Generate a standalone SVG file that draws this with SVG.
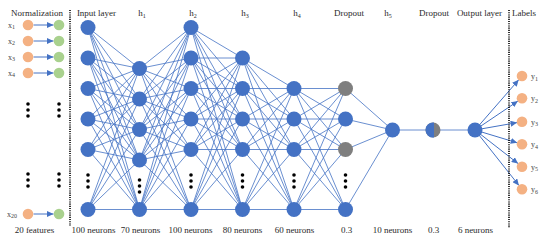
<svg xmlns="http://www.w3.org/2000/svg" width="550" height="245" viewBox="0 0 550 245">
<style>
.t{font-family:"Liberation Serif","DejaVu Serif",serif;font-size:9px;fill:#2a2a2a;text-anchor:middle}
.s{font-size:6px}
.xl{font-family:"Liberation Serif","DejaVu Serif",serif;font-size:8px;fill:#444}
.n{fill:#4472C4}
.g{fill:#7F7F7F}
.o{fill:#F4B183}
.gr{fill:#A9D18E}
.d{fill:#000}
.c{stroke:#4472C4;stroke-width:0.8;fill:none}
.a{stroke:#4472C4;stroke-width:1;fill:none;marker-end:url(#ah)}
.dl{stroke:#000;stroke-width:1.6;stroke-dasharray:1.1 1.1;fill:none}
</style>
<defs>
<marker id="ah" markerUnits="userSpaceOnUse" markerWidth="7" markerHeight="6" refX="6.5" refY="3" orient="auto">
<path d="M0,0 L6.5,3 L0,6 z" fill="#4472C4"/>
</marker>
</defs>
<rect width="550" height="245" fill="#fff"/>

<g id="connectors">
<path class="c" d="M88 27.5L139.5 68.5M88 27.5L139.5 99M88 27.5L139.5 129.5M88 27.5L139.5 160M88 27.5L139.5 209.5
M88 58L139.5 68.5M88 58L139.5 99M88 58L139.5 129.5M88 58L139.5 160M88 58L139.5 209.5
M88 88.5L139.5 68.5M88 88.5L139.5 99M88 88.5L139.5 129.5M88 88.5L139.5 160M88 88.5L139.5 209.5
M88 119L139.5 68.5M88 119L139.5 99M88 119L139.5 129.5M88 119L139.5 160M88 119L139.5 209.5
M88 149.5L139.5 68.5M88 149.5L139.5 99M88 149.5L139.5 129.5M88 149.5L139.5 160M88 149.5L139.5 209.5
M88 209.5L139.5 68.5M88 209.5L139.5 99M88 209.5L139.5 129.5M88 209.5L139.5 160M88 209.5L139.5 209.5"/>
<path class="c" d="M139.5 68.5L191 27.5M139.5 68.5L191 58M139.5 68.5L191 88.5M139.5 68.5L191 119M139.5 68.5L191 149.5M139.5 68.5L191 209.5
M139.5 99L191 27.5M139.5 99L191 58M139.5 99L191 88.5M139.5 99L191 119M139.5 99L191 149.5M139.5 99L191 209.5
M139.5 129.5L191 27.5M139.5 129.5L191 58M139.5 129.5L191 88.5M139.5 129.5L191 119M139.5 129.5L191 149.5M139.5 129.5L191 209.5
M139.5 160L191 27.5M139.5 160L191 58M139.5 160L191 88.5M139.5 160L191 119M139.5 160L191 149.5M139.5 160L191 209.5
M139.5 209.5L191 27.5M139.5 209.5L191 58M139.5 209.5L191 88.5M139.5 209.5L191 119M139.5 209.5L191 149.5M139.5 209.5L191 209.5"/>
<path class="c" d="M191 27.5L242.5 58M191 27.5L242.5 88.5M191 27.5L242.5 119M191 27.5L242.5 149.5M191 27.5L242.5 209.5
M191 58L242.5 58M191 58L242.5 88.5M191 58L242.5 119M191 58L242.5 149.5M191 58L242.5 209.5
M191 88.5L242.5 58M191 88.5L242.5 88.5M191 88.5L242.5 119M191 88.5L242.5 149.5M191 88.5L242.5 209.5
M191 119L242.5 58M191 119L242.5 88.5M191 119L242.5 119M191 119L242.5 149.5M191 119L242.5 209.5
M191 149.5L242.5 58M191 149.5L242.5 88.5M191 149.5L242.5 119M191 149.5L242.5 149.5M191 149.5L242.5 209.5
M191 209.5L242.5 58M191 209.5L242.5 88.5M191 209.5L242.5 119M191 209.5L242.5 149.5M191 209.5L242.5 209.5"/>
<path class="c" d="M242.5 58L294 88.5M242.5 58L294 119M242.5 58L294 149.5M242.5 58L294 209.5
M242.5 88.5L294 88.5M242.5 88.5L294 119M242.5 88.5L294 149.5M242.5 88.5L294 209.5
M242.5 119L294 88.5M242.5 119L294 119M242.5 119L294 149.5M242.5 119L294 209.5
M242.5 149.5L294 88.5M242.5 149.5L294 119M242.5 149.5L294 149.5M242.5 149.5L294 209.5
M242.5 209.5L294 88.5M242.5 209.5L294 119M242.5 209.5L294 149.5M242.5 209.5L294 209.5"/>
<path class="c" d="M294 88.5L345.5 88.5M294 88.5L345.5 119M294 88.5L345.5 149.5M294 88.5L345.5 209.5
M294 119L345.5 88.5M294 119L345.5 119M294 119L345.5 149.5M294 119L345.5 209.5
M294 149.5L345.5 88.5M294 149.5L345.5 119M294 149.5L345.5 149.5M294 149.5L345.5 209.5
M294 209.5L345.5 88.5M294 209.5L345.5 119M294 209.5L345.5 149.5M294 209.5L345.5 209.5"/>
<path class="c" d="M345.5 88.5L392.5 130M345.5 119L392.5 130M345.5 149.5L392.5 130M345.5 209.5L392.5 130M392.5 130L475 130"/>
<line class="a" x1="33.5" y1="25" x2="53.5" y2="25"/>
<line class="a" x1="33.5" y1="41" x2="53.5" y2="41"/>
<line class="a" x1="33.5" y1="57" x2="53.5" y2="57"/>
<line class="a" x1="33.5" y1="73" x2="53.5" y2="73"/>
<line class="a" x1="33.5" y1="214" x2="53.5" y2="214"/>
<line class="a" x1="475" y1="130" x2="518.7" y2="79.8"/>
<line class="a" x1="475" y1="130" x2="517.9" y2="101.1"/>
<line class="a" x1="475" y1="130" x2="517.1" y2="122.6"/>
<line class="a" x1="475" y1="130" x2="517.2" y2="142.8"/>
<line class="a" x1="475" y1="130" x2="518.1" y2="163.6"/>
<line class="a" x1="475" y1="130" x2="518.9" y2="185.4"/>
</g>

<g id="separators">
<line class="dl" x1="70" y1="10" x2="70" y2="226"/>
<line class="dl" x1="509" y1="10" x2="509" y2="228"/>
</g>

<g id="headers">
<text class="t" x="37" y="16">Normalization</text>
<text class="t" x="96.5" y="16">Input layer</text>
<text class="t" x="142" y="16">h<tspan class="s" dy="1.5">1</tspan></text>
<text class="t" x="193" y="16">h<tspan class="s" dy="1.5">2</tspan></text>
<text class="t" x="245" y="16">h<tspan class="s" dy="1.5">3</tspan></text>
<text class="t" x="297" y="16">h<tspan class="s" dy="1.5">4</tspan></text>
<text class="t" x="349" y="16">Dropout</text>
<text class="t" x="388" y="16">h<tspan class="s" dy="1.5">5</tspan></text>
<text class="t" x="434" y="16">Dropout</text>
<text class="t" x="479.5" y="16">Output layer</text>
<text class="t" x="524" y="16">Labels</text>
</g>

<g id="footers">
<text class="t" x="34.5" y="233">20 features</text>
<text class="t" x="93.5" y="233">100 neurons</text>
<text class="t" x="140.5" y="233">70 neurons</text>
<text class="t" x="190.5" y="233">100 neurons</text>
<text class="t" x="242.5" y="233">80 neurons</text>
<text class="t" x="294.5" y="233">60 neurons</text>
<text class="t" x="346.5" y="233">0.3</text>
<text class="t" x="392.5" y="233">10 neurons</text>
<text class="t" x="433.5" y="233">0.3</text>
<text class="t" x="475.5" y="233">6 neurons</text>
</g>

<g id="normalization">
<g id="x1"><text class="xl" x="8" y="27.5">x<tspan class="s" dy="1.5">1</tspan></text><circle class="o" cx="28" cy="25" r="5.3"/><circle class="gr" cx="59" cy="25" r="5.3"/></g>
<g id="x2"><text class="xl" x="8" y="43.5">x<tspan class="s" dy="1.5">2</tspan></text><circle class="o" cx="28" cy="41" r="5.3"/><circle class="gr" cx="59" cy="41" r="5.3"/></g>
<g id="x3"><text class="xl" x="8" y="59.5">x<tspan class="s" dy="1.5">3</tspan></text><circle class="o" cx="28" cy="57" r="5.3"/><circle class="gr" cx="59" cy="57" r="5.3"/></g>
<g id="x4"><text class="xl" x="8" y="75.5">x<tspan class="s" dy="1.5">4</tspan></text><circle class="o" cx="28" cy="73" r="5.3"/><circle class="gr" cx="59" cy="73" r="5.3"/></g>
<g id="x20"><text class="xl" x="7" y="216.5">x<tspan class="s" dy="1.5">20</tspan></text><circle class="o" cx="28" cy="214" r="5.3"/><circle class="gr" cx="59" cy="214" r="5.3"/></g>
<g id="norm-dots">
<circle class="d" cx="28" cy="104" r="1.8"/><circle class="d" cx="28" cy="110" r="1.8"/><circle class="d" cx="28" cy="116" r="1.8"/>
<circle class="d" cx="59" cy="104" r="1.8"/><circle class="d" cx="59" cy="110" r="1.8"/><circle class="d" cx="59" cy="116" r="1.8"/>
<circle class="d" cx="28" cy="174" r="1.8"/><circle class="d" cx="28" cy="180" r="1.8"/><circle class="d" cx="28" cy="186" r="1.8"/>
<circle class="d" cx="59" cy="174" r="1.8"/><circle class="d" cx="59" cy="180" r="1.8"/><circle class="d" cx="59" cy="186" r="1.8"/>
</g>
</g>

<g id="input-layer">
<circle class="n" cx="88" cy="27.5" r="7.5"/><circle class="n" cx="88" cy="58" r="7.5"/><circle class="n" cx="88" cy="88.5" r="7.5"/><circle class="n" cx="88" cy="119" r="7.5"/><circle class="n" cx="88" cy="149.5" r="7.5"/><circle class="n" cx="88" cy="209.5" r="7.5"/>
<circle class="d" cx="88" cy="175" r="1.8"/><circle class="d" cx="88" cy="181" r="1.8"/><circle class="d" cx="88" cy="187" r="1.8"/>
</g>
<g id="h1">
<circle class="n" cx="139.5" cy="68.5" r="7.5"/><circle class="n" cx="139.5" cy="99" r="7.5"/><circle class="n" cx="139.5" cy="129.5" r="7.5"/><circle class="n" cx="139.5" cy="160" r="7.5"/><circle class="n" cx="139.5" cy="209.5" r="7.5"/>
<circle class="d" cx="139.5" cy="180" r="1.8"/><circle class="d" cx="139.5" cy="186" r="1.8"/><circle class="d" cx="139.5" cy="192" r="1.8"/>
</g>
<g id="h2">
<circle class="n" cx="191" cy="27.5" r="7.5"/><circle class="n" cx="191" cy="58" r="7.5"/><circle class="n" cx="191" cy="88.5" r="7.5"/><circle class="n" cx="191" cy="119" r="7.5"/><circle class="n" cx="191" cy="149.5" r="7.5"/><circle class="n" cx="191" cy="209.5" r="7.5"/>
<circle class="d" cx="191" cy="175" r="1.8"/><circle class="d" cx="191" cy="181" r="1.8"/><circle class="d" cx="191" cy="187" r="1.8"/>
</g>
<g id="h3">
<circle class="n" cx="242.5" cy="58" r="7.5"/><circle class="n" cx="242.5" cy="88.5" r="7.5"/><circle class="n" cx="242.5" cy="119" r="7.5"/><circle class="n" cx="242.5" cy="149.5" r="7.5"/><circle class="n" cx="242.5" cy="209.5" r="7.5"/>
<circle class="d" cx="242.5" cy="175" r="1.8"/><circle class="d" cx="242.5" cy="181" r="1.8"/><circle class="d" cx="242.5" cy="187" r="1.8"/>
</g>
<g id="h4">
<circle class="n" cx="294" cy="88.5" r="7.5"/><circle class="n" cx="294" cy="119" r="7.5"/><circle class="n" cx="294" cy="149.5" r="7.5"/><circle class="n" cx="294" cy="209.5" r="7.5"/>
<circle class="d" cx="294" cy="175" r="1.8"/><circle class="d" cx="294" cy="181" r="1.8"/><circle class="d" cx="294" cy="187" r="1.8"/>
</g>
<g id="dropout1">
<circle class="g" cx="345.5" cy="88.5" r="7.5"/><circle class="n" cx="345.5" cy="119" r="7.5"/><circle class="g" cx="345.5" cy="149.5" r="7.5"/><circle class="n" cx="345.5" cy="209.5" r="7.5"/>
<circle class="d" cx="345.5" cy="175" r="1.8"/><circle class="d" cx="345.5" cy="181" r="1.8"/><circle class="d" cx="345.5" cy="187" r="1.8"/>
</g>
<g id="h5"><circle class="n" cx="392.5" cy="130" r="7.5"/></g>
<g id="dropout2"><circle class="g" cx="433" cy="130" r="7.5"/><path class="n" d="M434 122.57A7.5 7.5 0 1 0 434 137.43Z"/></g>
<g id="output-layer"><circle class="n" cx="475" cy="130" r="7.5"/></g>
<g id="labels">
<g id="y1"><circle class="o" cx="522" cy="76" r="5.3"/><text class="xl" x="531" y="79">y<tspan class="s" dy="1.5">1</tspan></text></g>
<g id="y2"><circle class="o" cx="522" cy="98.3" r="5.3"/><text class="xl" x="531" y="101.3">y<tspan class="s" dy="1.5">2</tspan></text></g>
<g id="y3"><circle class="o" cx="522" cy="121.7" r="5.3"/><text class="xl" x="531" y="124.7">y<tspan class="s" dy="1.5">3</tspan></text></g>
<g id="y4"><circle class="o" cx="522" cy="144.3" r="5.3"/><text class="xl" x="531" y="147.3">y<tspan class="s" dy="1.5">4</tspan></text></g>
<g id="y5"><circle class="o" cx="522" cy="166.7" r="5.3"/><text class="xl" x="531" y="169.7">y<tspan class="s" dy="1.5">5</tspan></text></g>
<g id="y6"><circle class="o" cx="522" cy="189.3" r="5.3"/><text class="xl" x="531" y="192.3">y<tspan class="s" dy="1.5">6</tspan></text></g>
</g>
</svg>
